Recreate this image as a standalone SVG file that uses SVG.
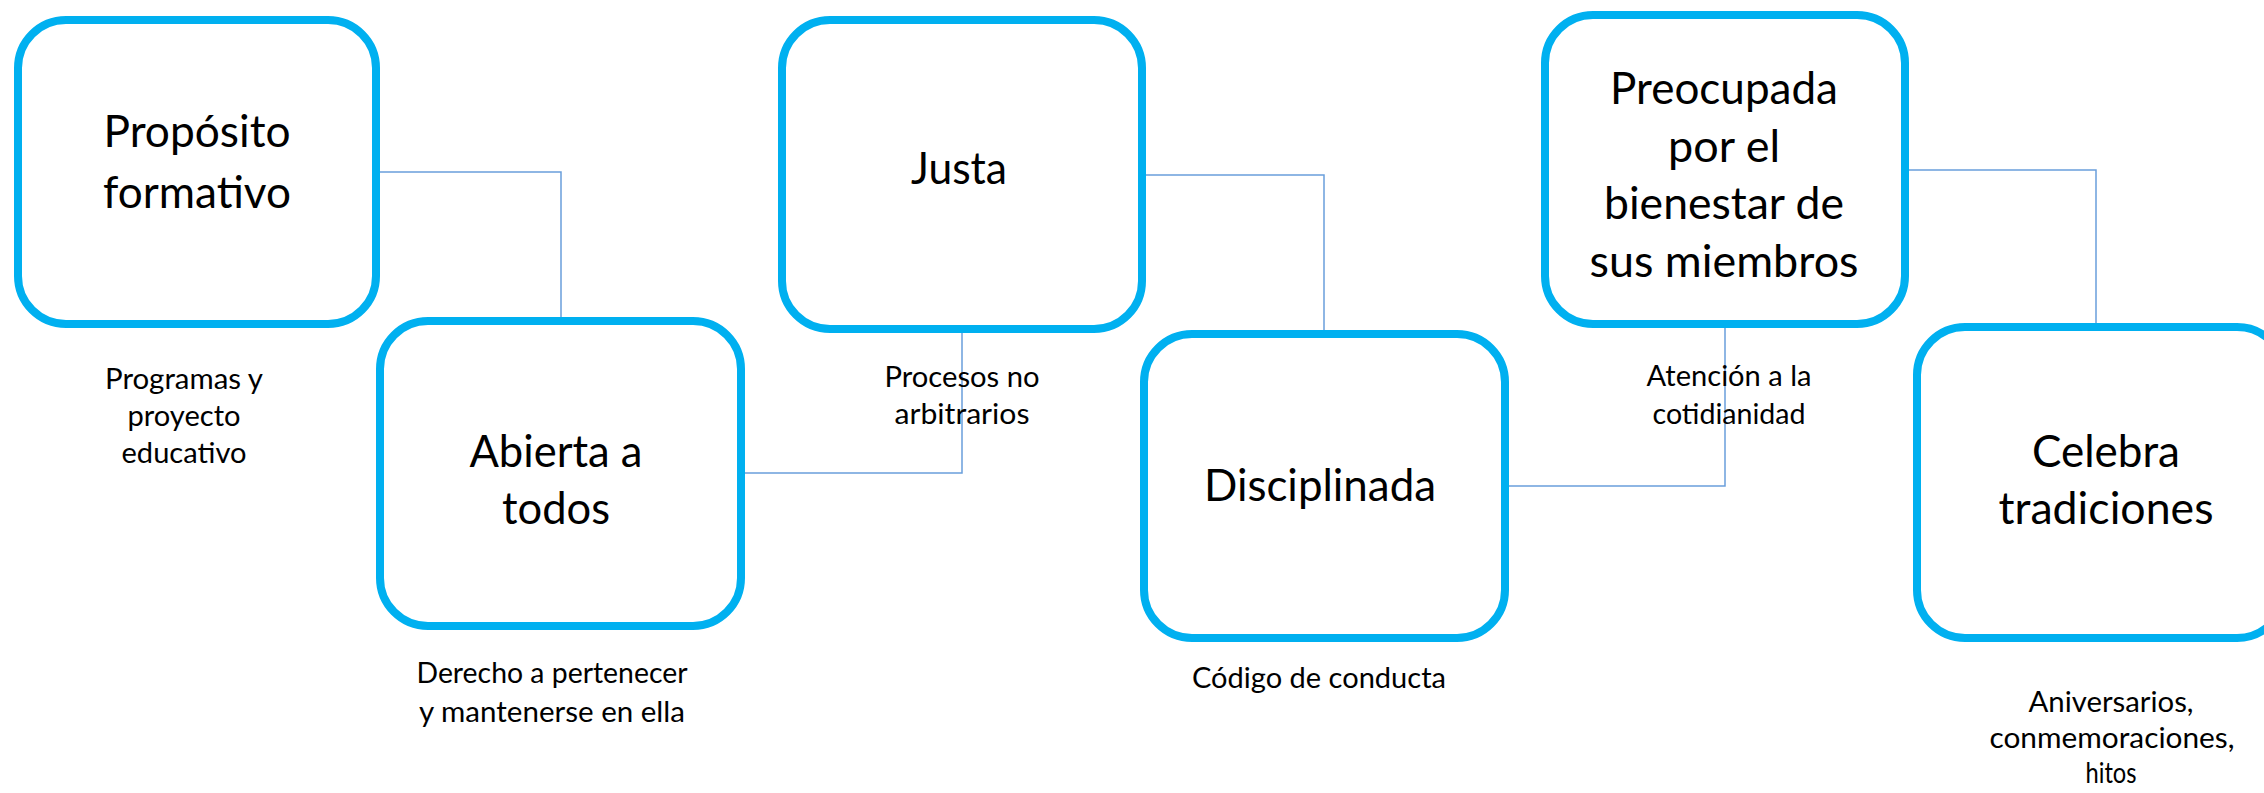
<svg xmlns="http://www.w3.org/2000/svg" width="2264" height="793" viewBox="0 0 2264 793">
<style>
.box{fill:#FFFFFF;stroke:#00B0F0;stroke-width:8}
.conn{fill:none;stroke:#6A9FDB;stroke-width:1.5}
.t{font-family:Lato,"Open Sans","Liberation Sans",sans-serif;font-size:44px;fill:#000000;text-anchor:middle}
.s{font-family:Lato,"Open Sans","Liberation Sans",sans-serif;font-size:29.5px;fill:#000000;text-anchor:middle}
</style>
<rect width="2264" height="793" fill="#FFFFFF"/>
<g id="connectors">
<path class="conn" d="M378,172 H561 V321"/>
<path class="conn" d="M741,473 H962 V329"/>
<path class="conn" d="M1142,175 H1324 V334"/>
<path class="conn" d="M1505,486 H1725 V324"/>
<path class="conn" d="M1905,170 H2096 V327"/>
</g>
<g id="n1">
<rect class="box" x="18" y="20" width="358" height="304" rx="48" ry="48"/>
<text class="t" x="197" y="147" textLength="187" lengthAdjust="spacingAndGlyphs">Propósito</text>
<text class="t" x="197" y="208" textLength="188" lengthAdjust="spacingAndGlyphs">formativo</text>
<text class="s" x="184" y="389" textLength="158" lengthAdjust="spacingAndGlyphs">Programas y</text>
<text class="s" x="184" y="426" textLength="113" lengthAdjust="spacingAndGlyphs">proyecto</text>
<text class="s" x="184" y="463" textLength="125" lengthAdjust="spacingAndGlyphs">educativo</text>
</g>
<g id="n2">
<rect class="box" x="380" y="321" width="361" height="305" rx="48" ry="48"/>
<text class="t" x="556" y="467" textLength="173" lengthAdjust="spacingAndGlyphs">Abierta a</text>
<text class="t" x="556" y="524" textLength="108" lengthAdjust="spacingAndGlyphs">todos</text>
<text class="s" x="552" y="683" textLength="271" lengthAdjust="spacingAndGlyphs">Derecho a pertenecer</text>
<text class="s" x="552" y="722" textLength="266" lengthAdjust="spacingAndGlyphs">y mantenerse en ella</text>
</g>
<g id="n3">
<rect class="box" x="782" y="20" width="360" height="309" rx="48" ry="48"/>
<text class="t" x="959" y="184" textLength="96" lengthAdjust="spacingAndGlyphs">Justa</text>
<text class="s" x="962" y="387" textLength="155" lengthAdjust="spacingAndGlyphs">Procesos no</text>
<text class="s" x="962" y="424" textLength="135" lengthAdjust="spacingAndGlyphs">arbitrarios</text>
</g>
<g id="n4">
<rect class="box" x="1144" y="334" width="361" height="304" rx="48" ry="48"/>
<text class="t" x="1320" y="501" textLength="232" lengthAdjust="spacingAndGlyphs">Disciplinada</text>
<text class="s" x="1319" y="688" textLength="254" lengthAdjust="spacingAndGlyphs">Código de conducta</text>
</g>
<g id="n5">
<rect class="box" x="1545" y="15" width="360" height="309" rx="48" ry="48"/>
<text class="t" x="1724" y="104" textLength="228" lengthAdjust="spacingAndGlyphs">Preocupada</text>
<text class="t" x="1724" y="162" textLength="112" lengthAdjust="spacingAndGlyphs">por el</text>
<text class="t" x="1724" y="219" textLength="240" lengthAdjust="spacingAndGlyphs">bienestar de</text>
<text class="t" x="1724" y="277" textLength="269" lengthAdjust="spacingAndGlyphs">sus miembros</text>
<text class="s" x="1729" y="386" textLength="165" lengthAdjust="spacingAndGlyphs">Atención a la</text>
<text class="s" x="1729" y="424" textLength="153" lengthAdjust="spacingAndGlyphs">cotidianidad</text>
</g>
<g id="n6">
<rect class="box" x="1917" y="327" width="368" height="311" rx="48" ry="48"/>
<text class="t" x="2106" y="467" textLength="148" lengthAdjust="spacingAndGlyphs">Celebra</text>
<text class="t" x="2106" y="524" textLength="215" lengthAdjust="spacingAndGlyphs">tradiciones</text>
<text class="s" x="2111" y="712" textLength="165" lengthAdjust="spacingAndGlyphs">Aniversarios,</text>
<text class="s" x="2112" y="748" textLength="245" lengthAdjust="spacingAndGlyphs">conmemoraciones,</text>
<text class="s" x="2111" y="783" textLength="51" lengthAdjust="spacingAndGlyphs">hitos</text>
</g>
</svg>
